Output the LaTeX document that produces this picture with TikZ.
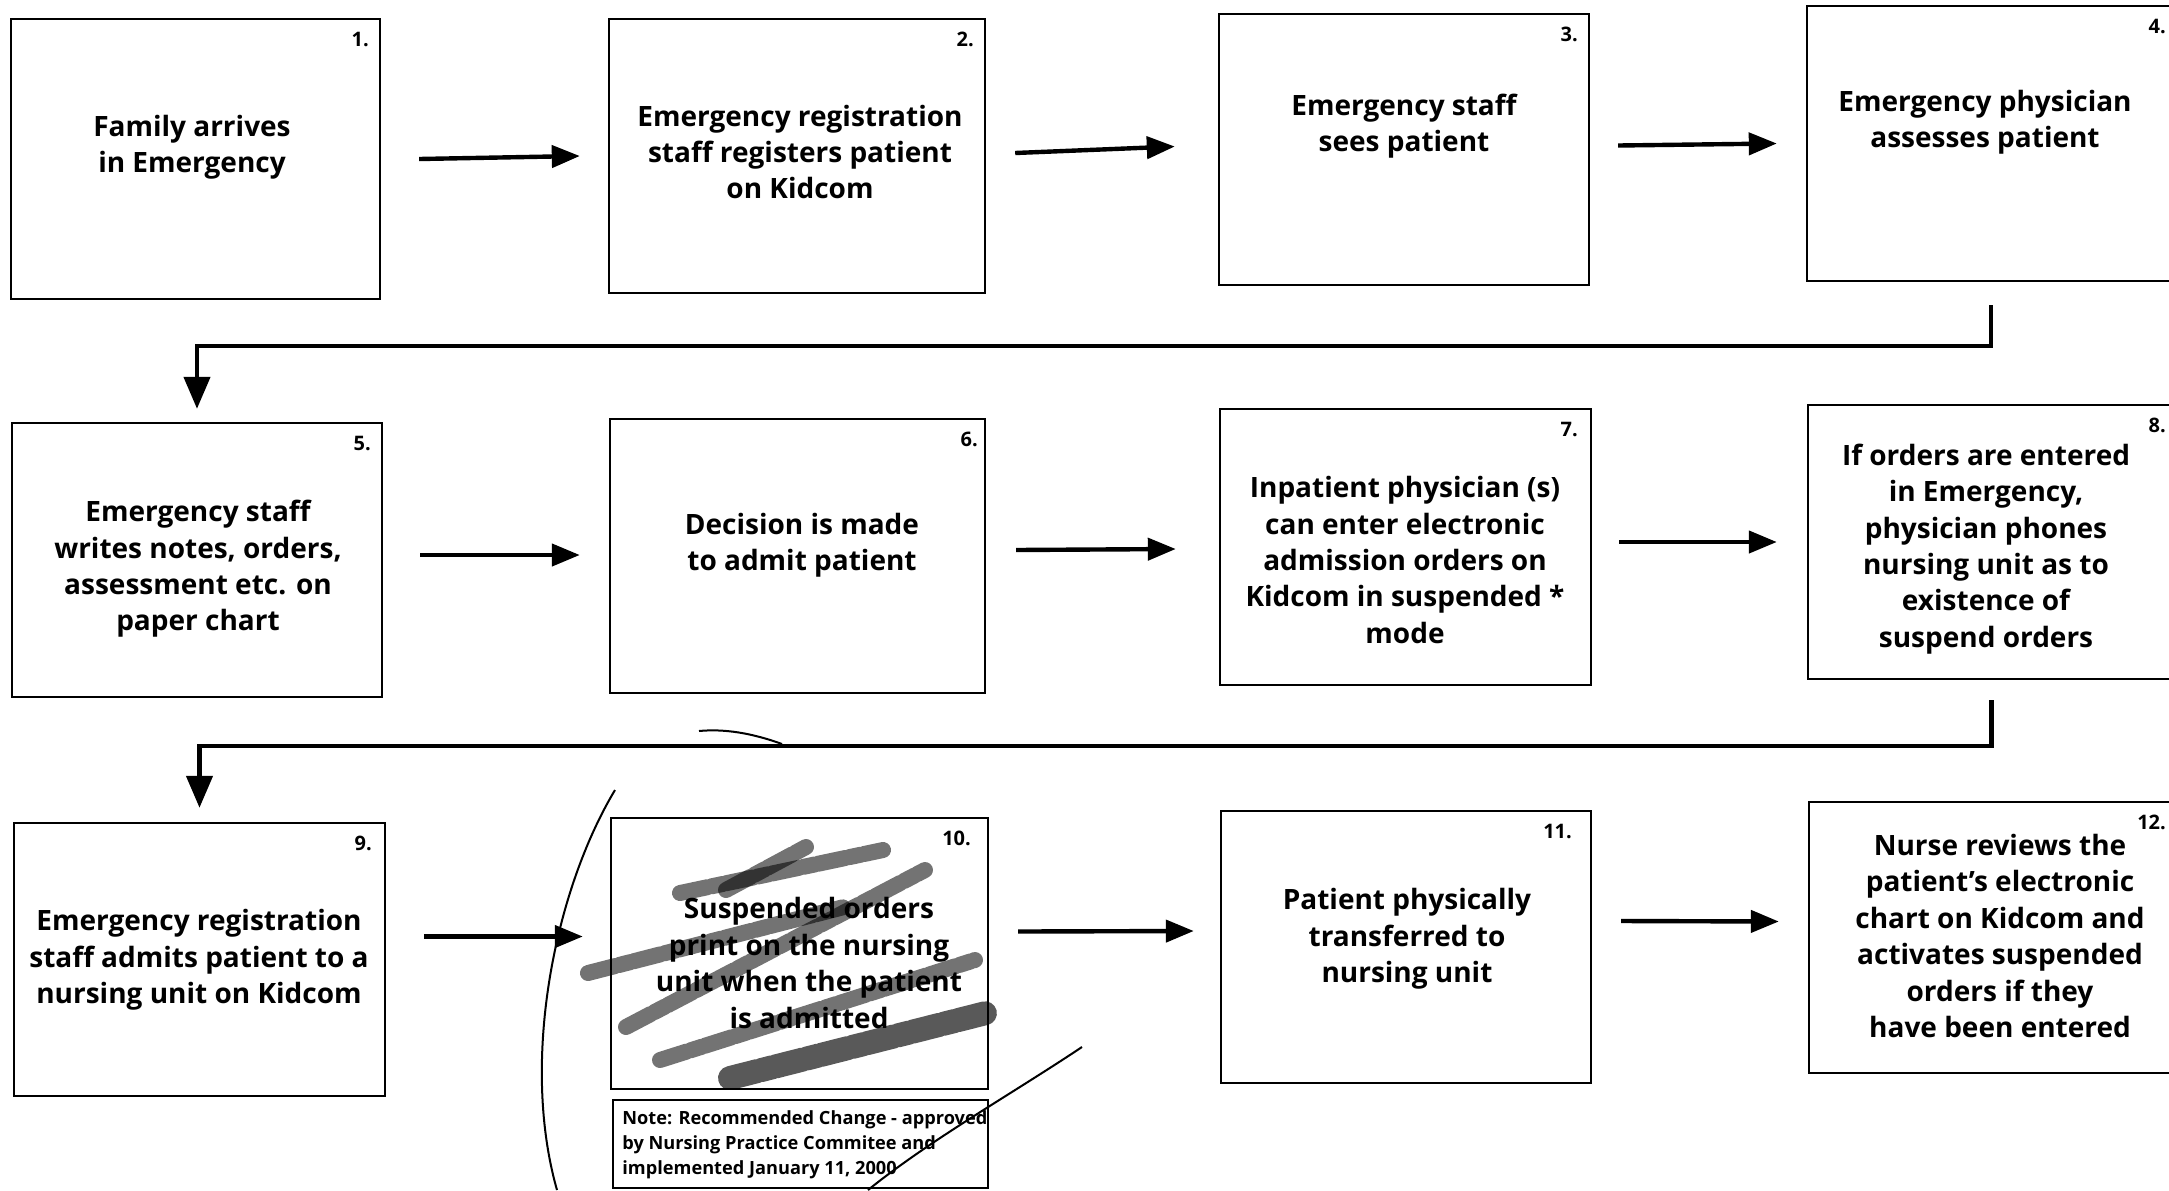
\documentclass[tikz,border=0pt]{standalone}
\usepackage{fontspec}
\setmainfont{Open Sans}
\usetikzlibrary{arrows.meta,calc,fit}
\tikzset{
  x=0.5pt, y=-0.5pt,
  box/.style={draw, line width=1.2pt, inner sep=0pt},
  lbl/.style={font=\bfseries\fontsize{14}{18.2}\selectfont, align=center, inner sep=0pt},
  num/.style={font=\bfseries\fontsize{10}{11}\selectfont, anchor=north east, inner sep=0pt},
  notetxt/.style={font=\bfseries\fontsize{9.1}{12.5}\selectfont, align=left, anchor=north west, inner sep=0pt},
  arr/.style={line width=2.2pt, -{Triangle[length=14pt,width=11pt]}},
  conn/.style={line width=2.2pt, -{Triangle[length=16pt,width=13pt]}},
  hand/.style={line width=1pt},
  scribble/.style={line width=8pt, line cap=round, black, opacity=0.55, dash pattern=on 14pt off 2pt on 6pt off 1.5pt},
}
\begin{document}
\begin{tikzpicture}
\useasboundingbox (0,0) rectangle (2169,1190);
\fill[white] (0,0) rectangle (2169,1190);
\clip (0,0) rectangle (2169,1190);

% boxes
\node[box, fit={(11,19) (380,299)}] (b1) {};
\node[box, fit={(609,19) (985,293)}] (b2) {};
\node[box, fit={(1219,14) (1589,285)}] (b3) {};
\node[box, fit={(1807,6) (2175,281)}] (b4) {};
\node[box, fit={(12,423) (382,697)}] (b5) {};
\node[box, fit={(610,419) (985,693)}] (b6) {};
\node[box, fit={(1220,409) (1591,685)}] (b7) {};
\node[box, fit={(1808,405) (2175,679)}] (b8) {};
\node[box, fit={(14,823) (385,1096)}] (b9) {};
\node[box, fit={(611,818) (988,1089)}] (b10) {};
\node[box, fit={(613,1100) (988,1188)}] (note) {};
\node[box, fit={(1221,811) (1591,1083)}] (b11) {};
\node[box, fit={(1809,802) (2175,1073)}] (b12) {};

% scribbles over box 10
\draw[scribble] (680,893) -- (883,850);
\draw[scribble] (726,890) -- (806,847);
\draw[scribble] (588,973) -- (844,907);
\draw[scribble] (626,1027) -- (925,870);
\draw[scribble] (660,1060) -- (975,960);
\draw[scribble, line width=12pt, opacity=0.65] (730,1078) -- (986,1013);

% numbers
\node[num] (n1) at ($(b1.north east)+(-12,14)$) {1.};
\node[num] (n2) at ($(b2.north east)+(-12,14)$) {2.};
\node[num] (n3) at ($(b3.north east)+(-12,14)$) {3.};
\node[num] (n4) at ($(b4.north east)+(-10,14)$) {4.};
\node[num] (n5) at ($(b5.north east)+(-12,14)$) {5.};
\node[num] (n6) at ($(b6.north east)+(-8,14)$) {6.};
\node[num] (n7) at ($(b7.north east)+(-14,14)$) {7.};
\node[num] (n8) at ($(b8.north east)+(-10,14)$) {8.};
\node[num] (n9) at ($(b9.north east)+(-14,14)$) {9.};
\node[num] (n10) at ($(b10.north east)+(-18,14)$) {10.};
\node[num] (n11) at ($(b11.north east)+(-20,14)$) {11.};
\node[num] (n12) at ($(b12.north east)+(-10,14)$) {12.};

% texts
\node[lbl] (t1) at (192,147) {Family arrives\\in Emergency};
\node[lbl] (t2) at (800,152) {Emergency registration\\staff registers patient\\on Kidcom};
\node[lbl] (t3) at (1404,126) {Emergency staff\\sees patient};
\node[lbl] (t4) at (1985,122) {Emergency physician\\assesses patient};
\node[lbl] (t5) at (198,569) {Emergency staff\\writes notes, orders,\\assessment etc. on\\paper chart};
\node[lbl] (t6) at (802,545) {Decision is made\\to admit patient};
\node[lbl] (t7) at (1405,560) {Inpatient physician (s)\\can enter electronic\\admission orders on\\Kidcom in suspended *\\mode};
\node[lbl] (t8) at (1986,549) {If orders are entered\\in Emergency,\\physician phones\\nursing unit as to\\existence of\\suspend orders};
\node[lbl] (t9) at (199,960) {Emergency registration\\staff admits patient to a\\nursing unit on Kidcom};
\node[lbl] (t10) at (809,963) {Suspended orders\\print on the nursing\\unit when the patient\\is admitted};
\node[lbl] (t11) at (1407,939) {Patient physically\\transferred to\\nursing unit};
\node[lbl] (t12) at (2000,936) {Nurse reviews the\\patient's electronic\\chart on Kidcom and\\activates suspended\\orders if they\\have been entered};
\node[notetxt] (tn) at (622,1110) {Note: Recommended Change - approved\\by Nursing Practice Commitee and\\implemented January 11, 2000};

% row arrows
\draw[arr] ($(b1.east)+(38,0)$) -- ($(b2.west)+(-28,0)$);
\draw[arr] ($(b2.east)+(29,-3)$) -- ($(b3.west)+(-43,-3)$);
\draw[arr] ($(b3.east)+(28,-4)$) -- ($(b4.west)+(-29,0)$);
\draw[arr] ($(b5.east)+(37,-5)$) -- ($(b6.west)+(-29,-1)$);
\draw[arr] ($(b6.east)+(30,-6)$) -- ($(b7.west)+(-43,2)$);
\draw[arr] ($(b7.east)+(27,-5)$) -- ($(b8.west)+(-30,0)$);
\draw[arr] ($(b9.east)+(38,-23)$) -- ($(b10.west)+(-27,-17)$);
\draw[arr] ($(b10.east)+(29,-22)$) -- ($(b11.west)+(-26,-16)$);
\draw[arr] ($(b11.east)+(29,-26)$) -- ($(b12.west)+(-29,-16)$);

% row-to-row connectors
\coordinate (c4) at ($(b4.south)+(0,23)$);
\draw[conn, shorten >=6.5pt] (c4) -- ++(0,41) -| (b5.north);
\coordinate (c8) at ($(b8.south)+(0,20)$);
\draw[conn, shorten >=7pt] (c8) -- ++(0,46) -| (b9.north);

% hand-drawn circle
\draw[hand] (699,731) .. controls (730,728) and (760,736) .. (782,744);
\draw[hand] (615,790) .. controls (555,890) and (520,1060) .. (557,1190);
\draw[hand] (1082,1047) .. controls (1010,1095) and (930,1140) .. (868,1190);
\end{tikzpicture}
\end{document}
